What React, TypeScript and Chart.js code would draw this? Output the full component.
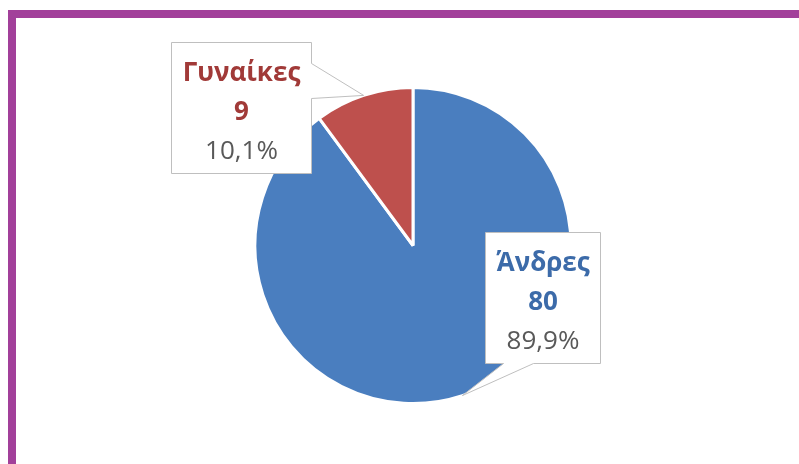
import React, { useEffect, useRef } from 'react';
import { Chart, registerables } from 'chart.js';

Chart.register(...registerables);

const categories: string[] = ['Άνδρες', 'Γυναίκες'];
const values: number[] = [80, 9];
const sliceColors: string[] = ['#4A7EBF', '#BE504D'];
const labelColors: string[] = ['#3C6BA9', '#A13A38'];

// callout placement relative to the slice's outer mid-point
const calloutLayout = [
  { dx: 80, dy: -98, side: 'bottom', base: [-39.5, -9.5] },
  { dx: -123, dy: 12, side: 'right', base: [-44.5, -9.5] },
];

const FONT_FAMILY = '"Open Sans", "Noto Sans", sans-serif';
const FONT_SIZE = 26;
const LINE_H = 39;

const total = values.reduce((a, b) => a + b, 0);
const percentLabels = values.map((v) => ((v / total) * 100).toFixed(1).replace('.', ',') + '%');

const calloutPlugin = {
  id: 'callouts',
  afterDatasetsDraw(chart: any) {
    const ctx: CanvasRenderingContext2D = chart.ctx;
    const meta = chart.getDatasetMeta(0);
    meta.data.forEach((arc: any, i: number) => {
      const p = arc.getProps(['x', 'y', 'startAngle', 'endAngle', 'outerRadius'], true);
      const mid = (p.startAngle + p.endAngle) / 2;
      const tipX = p.x + Math.cos(mid) * p.outerRadius;
      const tipY = p.y + Math.sin(mid) * p.outerRadius;
      const lay = calloutLayout[i];
      const lines = [
        { text: categories[i], font: `bold ${FONT_SIZE}px ${FONT_FAMILY}`, color: labelColors[i] },
        { text: String(values[i]), font: `bold ${FONT_SIZE}px ${FONT_FAMILY}`, color: labelColors[i] },
        { text: percentLabels[i], font: `${FONT_SIZE}px ${FONT_FAMILY}`, color: '#595959' },
      ];
      let maxW = 0;
      lines.forEach((l) => {
        ctx.font = l.font;
        maxW = Math.max(maxW, ctx.measureText(l.text).width);
      });
      const w = Math.round(maxW + 22);
      const h = 131;
      const cx = tipX + lay.dx;
      const cy = tipY + lay.dy;
      const L = Math.round(cx - w / 2) + 0.5;
      const T = Math.round(cy - h / 2) + 0.5;
      const R = L + w;
      const B = T + h;
      const bcx = (L + R) / 2;
      const bcy = (T + B) / 2;
      ctx.save();
      ctx.beginPath();
      if (lay.side === 'right') {
        ctx.moveTo(L, T);
        ctx.lineTo(R, T);
        ctx.lineTo(R, bcy + lay.base[0]);
        ctx.lineTo(tipX, tipY);
        ctx.lineTo(R, bcy + lay.base[1]);
        ctx.lineTo(R, B);
        ctx.lineTo(L, B);
      } else {
        ctx.moveTo(L, T);
        ctx.lineTo(R, T);
        ctx.lineTo(R, B);
        ctx.lineTo(bcx + lay.base[1], B);
        ctx.lineTo(tipX, tipY);
        ctx.lineTo(bcx + lay.base[0], B);
        ctx.lineTo(L, B);
      }
      ctx.closePath();
      ctx.fillStyle = '#FFFFFF';
      ctx.fill();
      ctx.strokeStyle = '#BFBFBF';
      ctx.lineWidth = 1;
      ctx.stroke();
      ctx.textAlign = 'center';
      ctx.textBaseline = 'middle';
      lines.forEach((l, k) => {
        ctx.font = l.font;
        ctx.fillStyle = l.color;
        ctx.fillText(l.text, bcx, T + 31 + k * LINE_H);
      });
      ctx.restore();
    });
  },
};

export default function App() {
  const ref = useRef<HTMLCanvasElement | null>(null);
  useEffect(() => {
    if (!ref.current) return;
    const chart = new Chart(ref.current, {
      type: 'pie',
      data: {
        labels: categories,
        datasets: [
          {
            data: values,
            backgroundColor: sliceColors,
            borderColor: '#FFFFFF',
            borderWidth: 3,
          },
        ],
      },
      options: {
        responsive: false,
        maintainAspectRatio: false,
        animation: false,
        layout: { padding: { left: 27, right: 0, top: 86, bottom: 59 } },
        plugins: {
          legend: { display: false },
          tooltip: { enabled: false },
        },
      },
      plugins: [calloutPlugin],
    });
    return () => chart.destroy();
  }, []);
  return (
    <div style={{ position: 'fixed', left: 0, top: 0, width: 799, height: 464, background: '#FFFFFF' }}>
      <div
        style={{
          position: 'absolute',
          left: 8,
          top: 10,
          right: 0,
          bottom: 0,
          borderTop: '8px solid #A2409A',
          borderLeft: '8px solid #A2409A',
        }}
      />
      <canvas ref={ref} width={799} height={464} style={{ position: 'absolute', left: 0, top: 0 }} />
    </div>
  );
}
